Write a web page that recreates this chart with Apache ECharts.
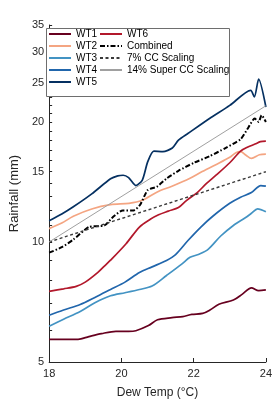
<!DOCTYPE html>
<html><head><meta charset="utf-8">
<script src="https://cdn.jsdelivr.net/npm/echarts@6/dist/echarts.min.js"></script>
<style>html,body{margin:0;padding:0;background:#fff}#c{width:275px;height:404px}</style>
</head><body><div id="c"></div>
<script>
const xTicks = [18, 20, 22, 24];
const yLabels = [5, 10, 15, 20, 25, 30, 35];
const yMinorTicks = [5,6,7,8,9,10,11,12,13,14,15,16,17,18,19,20,21,22,23,24,25,26,27,28,29,30,31,32,33,34,35];

const wt1 = [[18,5.7],[18.4,5.7],[18.8,5.7],[19.1,5.79],[19.45,5.89],[19.85,5.97],[20.2,5.97],[20.4,5.99],[20.75,6.17],[21.0,6.38],[21.4,6.46],[21.7,6.5],[21.95,6.58],[22.25,6.62],[22.45,6.75],[22.7,6.98],[23.1,7.15],[23.35,7.4],[23.6,7.67],[23.8,7.55],[24,7.58]];
const wt6 = [[18,7.52],[18.4,7.63],[18.75,7.74],[19.0,7.93],[19.35,8.39],[19.53,8.7],[19.7,9.0],[20.13,9.9],[20.5,10.9],[20.8,11.4],[21.03,11.7],[21.3,11.95],[21.58,12.2],[21.8,12.7],[22.1,13.3],[22.35,14.0],[22.62,14.7],[23.0,15.8],[23.3,16.9],[23.5,17.3],[23.7,17.6],[23.85,17.85],[24,17.9]];
const wt2 = [[18,10.8],[18.35,11.15],[18.67,11.6],[19.18,12.1],[19.7,12.4],[20.21,12.5],[20.56,12.7],[20.98,13.33],[21.4,13.8],[21.9,14.45],[22.2,14.95],[22.6,15.6],[23.0,16.3],[23.17,16.75],[23.3,16.85],[23.45,16.5],[23.6,16.2],[23.82,16.55],[24,16.6]];
const wt3 = [[18,6.15],[18.4,6.4],[18.86,6.69],[19.28,7.05],[19.7,7.33],[20.1,7.46],[20.5,7.6],[20.85,7.75],[21.25,8.24],[21.67,8.8],[21.9,9.15],[22.15,9.32],[22.4,9.58],[22.75,10.35],[23.1,11.0],[23.43,11.5],[23.6,11.8],[23.77,12.1],[24,11.9]];
const wt4 = [[18,6.55],[18.4,6.75],[18.86,6.97],[19.28,7.27],[19.7,7.6],[20.1,7.93],[20.5,8.38],[20.85,8.66],[21.25,8.99],[21.5,9.3],[21.85,10.1],[22.2,10.9],[22.53,11.6],[23.0,12.5],[23.3,12.95],[23.6,13.3],[23.86,13.85],[24,13.8]];
const wt5 = [[18,11.3],[18.35,11.75],[18.67,12.25],[19.18,13.2],[19.7,14.4],[19.9,14.65],[20.05,14.7],[20.2,14.5],[20.4,13.85],[20.58,14.3],[20.73,15.9],[20.9,16.9],[21.15,16.85],[21.41,17.2],[21.58,18.0],[21.84,18.7],[22.44,20.4],[23.0,22.0],[23.58,24.0],[23.68,23.1],[23.8,25.6],[24,21.8]];
const combined = [[18,9.4],[18.35,9.7],[18.67,10.14],[19.1,10.9],[19.53,11.0],[19.79,11.6],[20.04,12.0],[20.34,12.0],[20.52,12.4],[20.73,13.5],[20.98,13.75],[21.24,14.4],[21.58,15.08],[22.01,15.8],[22.44,16.4],[22.88,17.2],[23.3,18.1],[23.52,19.4],[23.69,20.4],[23.8,20.0],[23.88,20.8],[24,20.0]];
const cc7 = [[18,10],[24,15.0]];
const cc14 = [[18,10],[24,21.95]];

const chart = echarts.init(document.getElementById('c'), null, {renderer:'canvas'});
const font = 'Liberation Sans, Arial, sans-serif';
function ln(name, data, color, width, type, smooth) {
  return {name, type:'line', data, symbol:'none', smooth: smooth, color,
    lineStyle:{color, width, type}, animation:false, z: 3};
}
const legendCommon = {orient:'vertical', top:29, padding:0, itemWidth:22, itemHeight:12, itemGap:2, z:60,
  itemStyle:{opacity:0}, textStyle:{fontFamily:font, fontSize:10, color:'#000'}};
chart.setOption({
  backgroundColor:'#fff',
  animation:false,
  grid:{left:34, right:8, top:25, bottom:36},
  graphic:[{type:'rect', shape:{x:46.5, y:28.5, width:183, height:68}, style:{fill:'#fff', stroke:'#6e6e6e', lineWidth:1}, z:50}],
  legend:[
    Object.assign({left:48, data:['WT1','WT2','WT3','WT4','WT5']}, legendCommon),
    Object.assign({left:99, data:['WT6','Combined','7% CC Scaling','14% Super CC Scaling']}, legendCommon)
  ],
  xAxis:{type:'value', min:18, max:24, interval:2,
    name:'Dew Temp (°C)', nameLocation:'middle', nameGap:25,
    nameTextStyle:{fontFamily:font, fontSize:12, color:'#262626'},
    axisLine:{show:true, lineStyle:{color:'#262626', width:1}},
    axisTick:{show:true, inside:true, length:4, lineStyle:{color:'#262626'}},
    axisLabel:{fontFamily:font, fontSize:11, color:'#262626', margin:6, customValues: xTicks},
    splitLine:{show:false}},
  yAxis:{type:'log', logBase:10, min:5, max:35,
    name:'Rainfall (mm)', nameLocation:'middle', nameGap:22,
    nameTextStyle:{fontFamily:font, fontSize:13, color:'#262626'},
    axisLine:{show:true, lineStyle:{color:'#262626', width:1}},
    axisTick:{show:true, inside:true, length:3, lineStyle:{color:'#262626'}, customValues: yMinorTicks},
    axisLabel:{fontFamily:font, fontSize:11, color:'#262626', margin:5, customValues: yLabels, hideOverlap:false},
    splitLine:{show:false}, minorTick:{show:false}},
  series:[
    ln('WT1', wt1, '#67001f', 1.7, 'solid', 0.3),
    ln('WT2', wt2, '#f4a582', 1.7, 'solid', 0.3),
    ln('WT3', wt3, '#4393c3', 1.7, 'solid', 0.3),
    ln('WT4', wt4, '#2166ac', 1.7, 'solid', 0.3),
    ln('WT5', wt5, '#053061', 1.7, 'solid', 0.25),
    ln('WT6', wt6, '#b2182b', 1.7, 'solid', 0.3),
    ln('Combined', combined, '#000000', 2, [5,2,1.5,2], 0.2),
    ln('7% CC Scaling', cc7, '#3a3a3a', 1.4, [3,2.5], false),
    ln('14% Super CC Scaling', cc14, '#a0a0a0', 1, 'solid', false)
  ]
});
</script></body></html>
